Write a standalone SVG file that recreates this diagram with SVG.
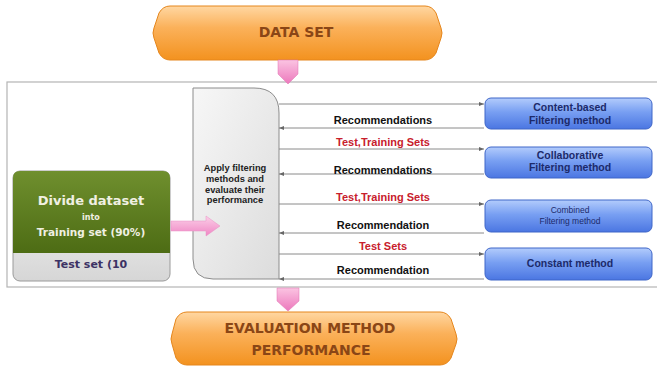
<svg xmlns="http://www.w3.org/2000/svg" width="657" height="368" viewBox="0 0 657 368">
<defs>
<linearGradient id="og" x1="0" y1="0" x2="0" y2="1"><stop offset="0" stop-color="#ffd7a2"/><stop offset="0.4" stop-color="#fbb15a"/><stop offset="1" stop-color="#f3921f"/></linearGradient>
<linearGradient id="pg" x1="0" y1="0" x2="0" y2="1"><stop offset="0" stop-color="#fbc4e2"/><stop offset="1" stop-color="#ec78bc"/></linearGradient>
<linearGradient id="pgh" x1="0" y1="0" x2="0" y2="1"><stop offset="0" stop-color="#fcd0e8"/><stop offset="1" stop-color="#ef86c4"/></linearGradient>
<linearGradient id="gg" x1="0" y1="0" x2="0" y2="1"><stop offset="0" stop-color="#6f8f2e"/><stop offset="1" stop-color="#4d6c14"/></linearGradient>
<linearGradient id="lg" x1="0" y1="0" x2="0" y2="1"><stop offset="0" stop-color="#fafafa"/><stop offset="1" stop-color="#d6d6d6"/></linearGradient>
<linearGradient id="sg" x1="0" y1="0" x2="1" y2="1"><stop offset="0" stop-color="#f7f7f7"/><stop offset="1" stop-color="#dcdcdc"/></linearGradient>
<linearGradient id="bg" x1="0" y1="0" x2="0" y2="1"><stop offset="0" stop-color="#b3ccfc"/><stop offset="0.45" stop-color="#789ff2"/><stop offset="1" stop-color="#4b76e2"/></linearGradient>
<marker id="ah" markerWidth="6" markerHeight="6" refX="5" refY="3" orient="auto" markerUnits="userSpaceOnUse"><path d="M0,1 L5,3 L0,5 Z" fill="#666"/></marker>
</defs>
<style>
.lbl{font-family:"Liberation Sans",Arial,sans-serif;font-weight:bold;text-anchor:middle}
.blk{font-size:11px;fill:#111}
.red{font-size:11px;fill:#c8202c}
.bx{font-size:10.5px;fill:#1c2a6a}
.bxs{font-size:8.5px;fill:#1c2a6a;font-weight:normal}
.org{font-family:"DejaVu Sans",Verdana,sans-serif;font-size:14px;fill:#8a4616}
.dv{font-family:"DejaVu Sans",Verdana,sans-serif}
.con{stroke:#8a8a8a;stroke-width:1;fill:none;marker-end:url(#ah)}
.blue{fill:url(#bg);stroke:#3f66c8;stroke-width:1}
</style>
<rect x="7" y="82" width="660" height="205" fill="#fff" stroke="#b4b4b4" stroke-width="1.2"/>

<g id="dataset">
<path d="M170,6 H425 Q432,6 436,13 L441,28 Q443,33 441,38 L436,53 Q432,60 425,60 H170 Q163,60 159,53 L154,38 Q152,33 154,28 L159,13 Q163,6 170,6 Z" fill="url(#og)" stroke="#e5861c" stroke-width="1"/>
<text class="lbl org" x="296" y="37">DATA SET</text>
</g>

<g id="arrow-top"><path d="M278,60 H298 V74 L288,84 L278,74 Z" fill="url(#pg)" stroke="#e070b0" stroke-width="0.5"/></g>

<g id="divide">
<rect x="13" y="171" width="157" height="110" rx="7" fill="url(#lg)" stroke="#9a9a9a"/>
<path d="M20,171 H163 Q170,171 170,178 V253 H13 V178 Q13,171 20,171 Z" fill="url(#gg)"/>
<text class="lbl dv" x="91" y="205" font-size="13" fill="#f0f0e2">Divide dataset</text>
<text class="lbl dv" x="91" y="220" font-size="8" fill="#f0f0e2">into</text>
<text class="lbl dv" x="91" y="236" font-size="10.5" fill="#f0f0e2">Training set (90%)</text>
<text class="lbl dv" x="91" y="268" font-size="11" fill="#3c3264">Test set (10</text>
</g>

<g id="apply">
<path d="M193,88 H254 Q279,88 279,113 V279 H213 Q193,279 193,259 Z" fill="url(#sg)" stroke="#8c8c8c" stroke-width="1"/>
<text class="lbl" font-size="9.3" fill="#222"><tspan x="235" y="171">Apply filtering</tspan><tspan x="235" y="182">methods and</tspan><tspan x="235" y="193">evaluate their</tspan><tspan x="235" y="203">performance</tspan></text>
</g>

<g id="arrow-mid"><path d="M171,221 H206 V216 L220,226 L206,236 V231 H171 Z" fill="url(#pgh)" stroke="#e890c4" stroke-width="0.5"/></g>

<g id="content">
<rect class="blue" x="485" y="98" width="167" height="31" rx="6"/>
<text class="lbl bx" x="570" y="111">Content-based</text>
<text class="lbl bx" x="570" y="124">Filtering method</text>
</g>
<g id="collab">
<rect class="blue" x="485" y="147" width="167" height="31" rx="6"/>
<text class="lbl bx" x="570" y="159">Collaborative</text>
<text class="lbl bx" x="570" y="171">Filtering method</text>
</g>
<g id="combined">
<rect class="blue" x="485" y="200" width="167" height="32" rx="6"/>
<text class="lbl bxs" x="570" y="213">Combined</text>
<text class="lbl bxs" x="570" y="224">Filtering method</text>
</g>
<g id="constant">
<rect class="blue" x="485" y="248" width="167" height="32" rx="6"/>
<text class="lbl bx" x="570" y="267" font-size="11">Constant method</text>
</g>

<g id="connectors">
<line class="con" x1="279" y1="104" x2="484" y2="104"/>
<line class="con" x1="484" y1="128" x2="279" y2="128"/>
<line class="con" x1="279" y1="149" x2="484" y2="149"/>
<line class="con" x1="484" y1="174" x2="279" y2="174"/>
<line class="con" x1="279" y1="204" x2="484" y2="204"/>
<line class="con" x1="484" y1="233" x2="279" y2="233"/>
<line class="con" x1="279" y1="254" x2="484" y2="254"/>
<line class="con" x1="484" y1="279" x2="279" y2="279"/>
<text class="lbl blk" x="383" y="124">Recommendations</text>
<text class="lbl red" x="383" y="146">Test,Training Sets</text>
<text class="lbl blk" x="383" y="174">Recommendations</text>
<text class="lbl red" x="383" y="201">Test,Training Sets</text>
<text class="lbl blk" x="383" y="229">Recommendation</text>
<text class="lbl red" x="383" y="250">Test Sets</text>
<text class="lbl blk" x="383" y="274">Recommendation</text>
</g>

<g id="arrow-bottom"><path d="M277,288 H299 V301 L288,311 L277,301 Z" fill="url(#pg)" stroke="#e070b0" stroke-width="0.5"/></g>

<g id="evaluation">
<path d="M187,312 H440 Q447,312 451,319 L456,334 Q458,339 456,344 L451,358 Q447,365 440,365 H187 Q180,365 176,358 L172,344 Q170,339 172,334 L176,319 Q180,312 187,312 Z" fill="url(#og)" stroke="#e5861c" stroke-width="1"/>
<text class="lbl org" x="310" y="333" font-size="14.5">EVALUATION METHOD</text>
<text class="lbl org" x="311" y="355" font-size="14.5">PERFORMANCE</text>
</g>
</svg>
